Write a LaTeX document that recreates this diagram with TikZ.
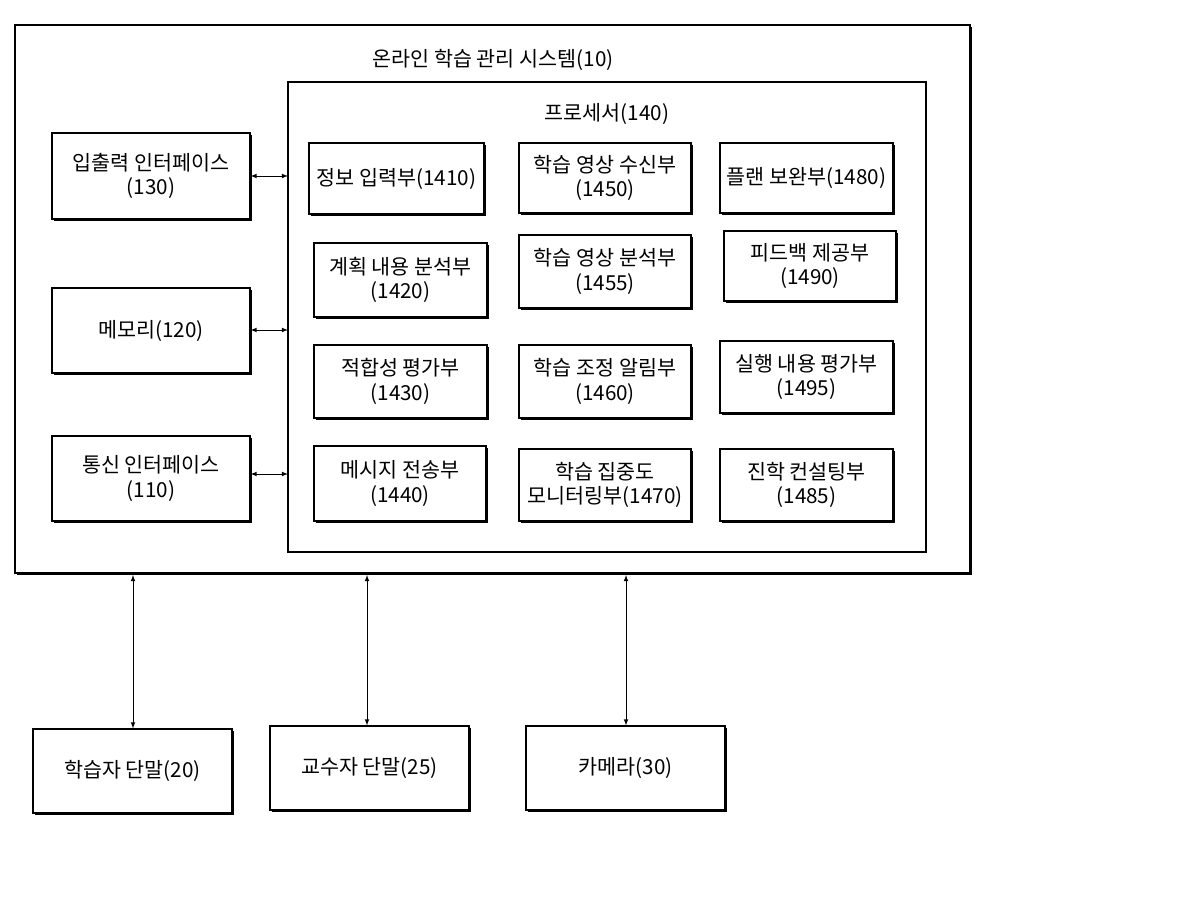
\documentclass[tikz,border=0pt]{standalone}
\usepackage{fontspec}
\setmainfont{Noto Sans CJK KR}
\begin{document}
\begin{tikzpicture}[x=0.75pt,y=-0.75pt,
  bx/.style={draw,line width=0.9pt,fill=white,align=center,font=\fontsize{15.5}{18.5}\selectfont},
  arr/.style={<->,>=latex,line width=0.6pt}]
\useasboundingbox (0,0) rectangle (1200,900);
\def\B#1#2#3#4#5#6{\fill (#2+2,#3+2) rectangle (#4+2,#5+2);
  \node[bx,minimum width={(#4-#2)*0.75pt},minimum height={(#5-#3)*0.75pt},inner sep=0pt] (#1) at ({(#2+#4)/2},{(#3+#5)/2}) {#6};}
\B{sys}{15}{25}{970}{573}{}
\node[font=\fontsize{15.5}{18}\selectfont] (t) at (493,60) {온라인 학습 관리 시스템(10)};
\draw[line width=0.9pt,fill=white] (288,82) rectangle (926,552);
\node[draw=none,minimum width=478.5pt,minimum height=352.5pt] (proc) at (607,317) {};
\node[font=\fontsize{15.5}{18}\selectfont] (pt) at (607,114) {프로세서(140)};
\B{io}{52}{133}{250}{219}{입출력 인터페이스\\(130)}
\B{mem}{52}{288}{250}{373}{메모리(120)}
\B{com}{52}{436}{250}{521}{통신 인터페이스\\(110)}
\B{a1}{309}{143}{484}{214}{정보 입력부(1410)}
\B{a2}{314}{243}{487}{317}{계획 내용 분석부\\(1420)}
\B{a3}{314}{345}{487}{418}{적합성 평가부\\(1430)}
\B{a4}{314}{446}{486}{521}{메시지 전송부\\(1440)}
\B{b1}{519}{143}{691}{213}{학습 영상 수신부\\(1450)}
\B{b2}{519}{235}{691}{308}{학습 영상 분석부\\(1455)}
\B{b3}{519}{345}{691}{418}{학습 조정 알림부\\(1460)}
\B{b4}{519}{449}{691}{521}{학습 집중도\\모니터링부(1470)}
\B{c1}{720}{143}{893}{213}{플랜 보완부(1480)}
\B{c2}{724}{231}{896}{301}{피드백 제공부\\(1490)}
\B{c3}{720}{341}{893}{413}{실행 내용 평가부\\(1495)}
\B{c4}{720}{449}{893}{521}{진학 컨설팅부\\(1485)}
\B{d1}{33}{729}{232}{813}{학습자 단말(20)}
\B{d2}{270}{726}{469}{810}{교수자 단말(25)}
\B{d3}{526}{726}{725}{810}{카메라(30)}
\coordinate (p1) at (288,176); \coordinate (p2) at (288,330); \coordinate (p3) at (288,474);
\draw[arr] (io.east|-p1) -- (p1);
\draw[arr] (mem.east|-p2) -- (p2);
\draw[arr] (com.east|-p3) -- (p3);
\coordinate (s1) at (133,575); \coordinate (s2) at (367,575); \coordinate (s3) at (626,575);
\draw[arr] (s1) -- (s1|-d1.north);
\draw[arr] (s2) -- (s2|-d2.north);
\draw[arr] (s3) -- (s3|-d3.north);
\end{tikzpicture}
\end{document}
